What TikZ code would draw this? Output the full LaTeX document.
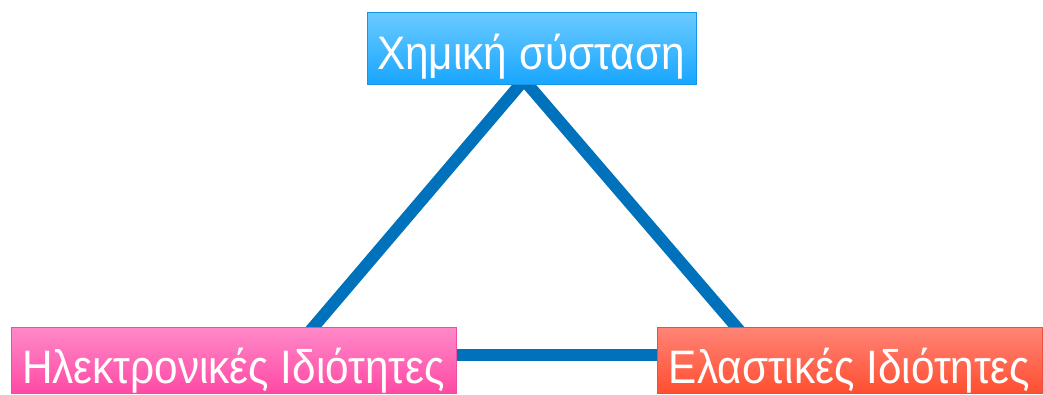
\documentclass[tikz,border=0pt]{standalone}
\usepackage{fontspec}
\setmainfont{Liberation Sans}
\newfontfamily\boxfont[FakeStretch=0.9]{Liberation Sans}
\definecolor{linkblue}{RGB}{0,114,188}
\definecolor{bluetop}{RGB}{106,202,255}
\definecolor{bluebot}{RGB}{24,166,255}
\definecolor{blueedge}{RGB}{20,150,230}
\definecolor{pinktop}{RGB}{255,138,200}
\definecolor{pinkbot}{RGB}{255,72,164}
\definecolor{pinkedge}{RGB}{235,80,160}
\definecolor{redtop}{RGB}{255,132,118}
\definecolor{redbot}{RGB}{255,78,48}
\definecolor{rededge}{RGB}{235,80,60}
\tikzset{
  box/.style={draw, line width=1pt, inner sep=0pt, anchor=north west},
  boxtext/.style={text=white, inner sep=0pt, anchor=base, font=\boxfont\fontsize{47}{47}\selectfont},
  link/.style={draw=linkblue, line width=12pt}
}
\begin{document}
\begin{tikzpicture}[x=1pt,y=-1pt]
\useasboundingbox (0,0) rectangle (1043,395);
\coordinate (apex) at (524,80);
\coordinate (bl) at (305,337);
\coordinate (br) at (745,337);
\coordinate (hl) at (450,355);
\coordinate (hr) at (665,355);
\draw[link, line join=miter] (bl) -- (apex) -- (br);
\draw[link] (hl) -- (hr);
\node[box, draw=blueedge, top color=bluetop, bottom color=bluebot,
  minimum width=329pt, minimum height=72pt] (chem) at (367,12) {};
\node[boxtext] (chemt) at (531,70) {Χημική σύσταση};
\node[box, draw=pinkedge, top color=pinktop, bottom color=pinkbot,
  minimum width=445pt, minimum height=66pt] (elec) at (11,327) {};
\node[boxtext] (elect) at (233.5,383) {Ηλεκτρονικές Ιδιότητες};
\node[box, draw=rededge, top color=redtop, bottom color=redbot,
  minimum width=385pt, minimum height=66pt] (elas) at (657,327) {};
\node[boxtext] (elast) at (849.5,383) {Ελαστικές Ιδιότητες};
\end{tikzpicture}
\end{document}
